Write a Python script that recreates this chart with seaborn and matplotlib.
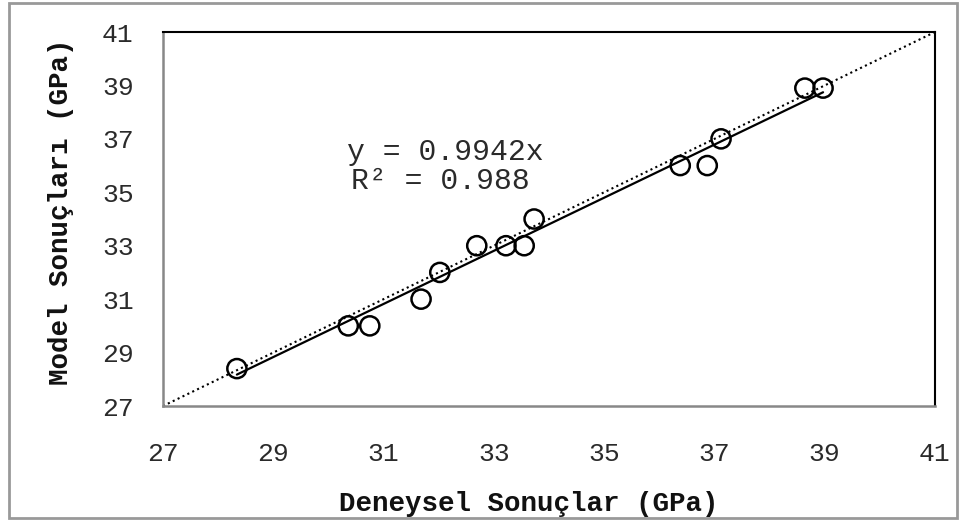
import numpy as np
import pandas as pd
import matplotlib
matplotlib.use("Agg")
import matplotlib.pyplot as plt
import seaborn as sns
from matplotlib.patches import Rectangle

# Data
deneysel = [28.34, 30.36, 30.75, 31.68, 32.02, 32.69, 33.22, 33.55, 33.73,
            36.38, 36.87, 37.12, 38.64, 38.97]
model = [28.4, 30.0, 30.0, 31.0, 32.0, 33.0, 33.0, 33.0, 34.0,
         36.0, 36.0, 37.0, 38.9, 38.9]
slope = 0.9942
r2 = 0.988
ticks = [27, 29, 31, 33, 35, 37, 39, 41]

df = pd.DataFrame({"Deneysel": deneysel, "Model": model})

sns.set_theme(style="white")
plt.rcParams["font.family"] = ["Liberation Mono", "DejaVu Sans Mono"]

fig = plt.figure(figsize=(9.6, 5.2), dpi=100)
ax = fig.add_axes([163/960, 1-406/520, (935-163)/960, (406-32)/520])

# y = x reference line (dotted)
ax.plot([ticks[0], ticks[-1]], [ticks[0], ticks[-1]], color="black",
        linestyle=(0, (1, 1.6)), linewidth=1.5, zorder=1)
# trend line through origin
xs = np.array([min(deneysel), max(deneysel)])
ax.plot(xs, slope * xs, color="black", linewidth=1.6, zorder=2)

sns.scatterplot(data=df, x="Deneysel", y="Model", ax=ax, marker="o",
                s=190, facecolor="none", edgecolor="black", linewidth=1.8,
                zorder=3)

ax.set_xlim(27, 41)
ax.set_ylim(27, 41)
ax.set_xticks(ticks)
ax.set_yticks(ticks)
ax.tick_params(axis="both", direction="out", length=8, width=1.5,
               color="#888888", labelsize=19, labelcolor="#2a2a2a")
ax.tick_params(axis="x", pad=18)
ax.tick_params(axis="y", pad=13)

for side in ["top", "right"]:
    ax.spines[side].set_color("black")
    ax.spines[side].set_linewidth(1.5)
for side in ["left", "bottom"]:
    ax.spines[side].set_color("#888888")
    ax.spines[side].set_linewidth(1.8)

ax.set_xlabel("Deneysel Sonuçlar (GPa)", fontsize=19.8, fontweight="bold",
              labelpad=18, color="#111111")
ax.set_ylabel("Model Sonuçları (GPa)", fontsize=19.8, fontweight="bold",
              labelpad=20, color="#111111")
ax.xaxis.label.set_x(0.474)
ax.yaxis.label.set_y(0.52)

fig.text(445/960, 1-152/520, f"y = {slope}x", fontsize=21.4, ha="center",
         va="center", color="#2a2a2a")
fig.text(440/960, 1-181/520, f"R² = {r2}", fontsize=21.4, ha="center",
         va="center", color="#2a2a2a")

fig.patches.append(Rectangle((9/960, 2/520), 948/960, 515/520,
                             transform=fig.transFigure, fill=False,
                             edgecolor="#999999", linewidth=2))

fig.savefig("out.png", dpi=100)
